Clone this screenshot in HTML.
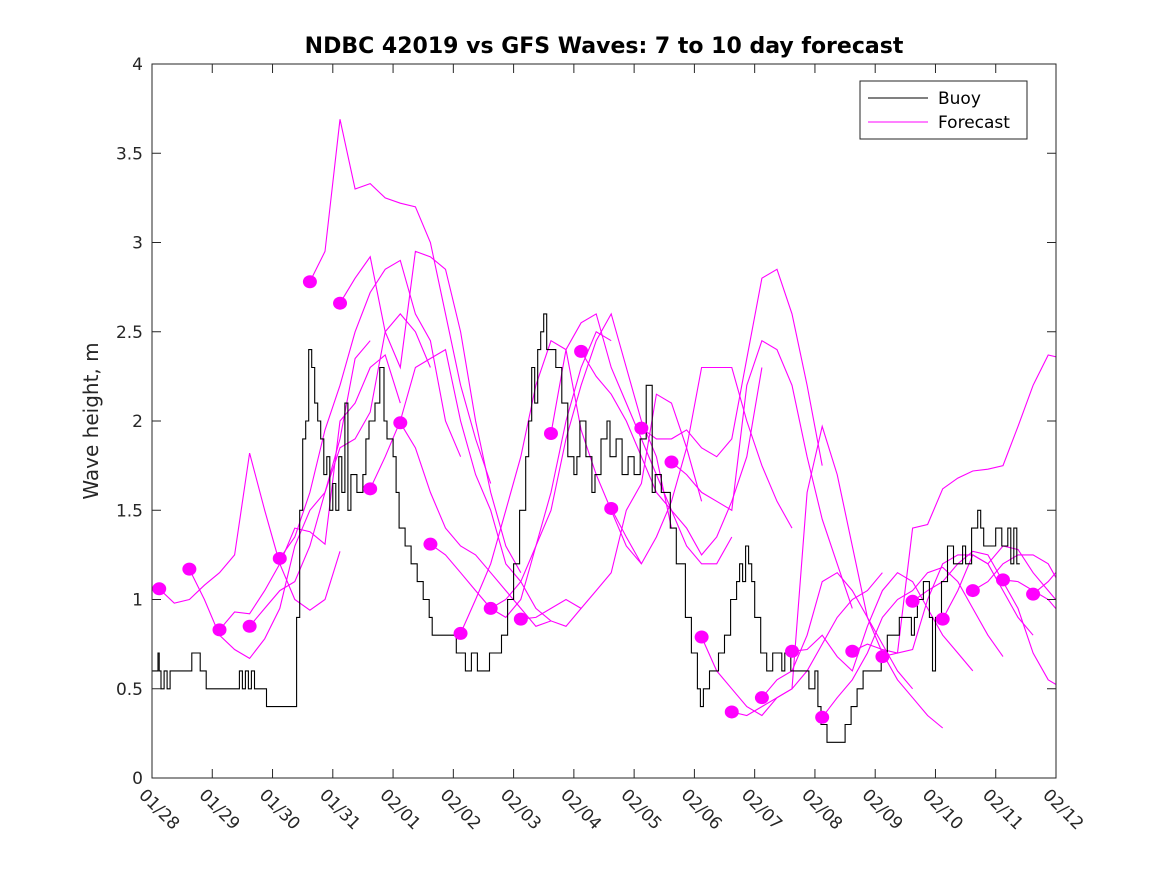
<!DOCTYPE html>
<html><head><meta charset="utf-8"><style>
body{margin:0;background:#fff;}
svg{display:block;font-family:"DejaVu Sans","Liberation Sans",sans-serif;}
</style></head><body>
<svg id="chart" width="1167" height="875">
<rect width="1167" height="875" fill="#fff"/>
<defs><clipPath id="clip"><rect x="152" y="64" width="904" height="714"/></clipPath></defs>
<g id="plot" clip-path="url(#clip)"></g>
<g id="axes"></g>
<text x="604" y="53" text-anchor="middle" font-size="22" font-weight="bold" fill="#000">NDBC 42019 vs GFS Waves: 7 to 10 day forecast</text>
<text transform="translate(98,421) rotate(-90)" text-anchor="middle" font-size="20" fill="#262626">Wave height, m</text>
<g>
<rect x="860" y="81" width="167" height="58" fill="#fff" stroke="#262626" stroke-width="1"/>
<line x1="868" y1="98" x2="928" y2="98" stroke="#000" stroke-width="1"/>
<text x="938" y="104" font-size="17" fill="#000">Buoy</text>
<line x1="868" y1="122" x2="928" y2="122" stroke="#ff00ff" stroke-width="1"/>
<text x="938" y="128" font-size="17" fill="#000">Forecast</text>
</g>
</svg>
<script>
const xTickLabels=["01/28","01/29","01/30","01/31","02/01","02/02","02/03","02/04","02/05","02/06","02/07","02/08","02/09","02/10","02/11","02/12"];
const yTickValues=[0,0.5,1,1.5,2,2.5,3,3.5,4];
const yTickLabels=["0","0.5","1","1.5","2","2.5","3","3.5","4"];
const buoyDays=[0,0.1,0.12,0.15,0.2,0.25,0.3,0.35,0.4,0.5,0.66,0.7,0.8,0.9,1.4,1.45,1.5,1.55,1.6,1.65,1.7,1.75,1.9,2.35,2.4,2.45,2.5,2.55,2.6,2.65,2.7,2.75,2.8,2.85,2.9,2.95,3.0,3.05,3.1,3.15,3.2,3.25,3.3,3.4,3.5,3.55,3.6,3.7,3.78,3.85,3.9,4.0,4.05,4.1,4.2,4.3,4.4,4.5,4.6,4.65,4.8,5.0,5.05,5.2,5.3,5.4,5.55,5.6,5.7,5.8,5.9,6.0,6.1,6.2,6.25,6.3,6.35,6.4,6.45,6.5,6.55,6.6,6.7,6.8,6.9,7.0,7.05,7.1,7.2,7.3,7.35,7.45,7.55,7.6,7.7,7.8,7.9,8.0,8.1,8.2,8.3,8.35,8.45,8.6,8.7,8.85,8.95,9.05,9.1,9.15,9.25,9.4,9.5,9.6,9.7,9.75,9.8,9.85,9.9,9.95,10.0,10.1,10.2,10.3,10.45,10.5,10.6,10.8,10.9,11.0,11.05,11.1,11.2,11.4,11.5,11.6,11.7,11.8,11.9,12.1,12.2,12.4,12.5,12.6,12.65,12.7,12.8,12.9,12.95,13.0,13.1,13.2,13.3,13.45,13.5,13.6,13.7,13.75,13.8,13.9,14.0,14.1,14.2,14.25,14.3,14.35,14.4];
const buoyHeights=[0.6,0.7,0.6,0.5,0.6,0.5,0.6,0.6,0.6,0.6,0.7,0.7,0.6,0.5,0.5,0.6,0.5,0.6,0.5,0.6,0.5,0.5,0.4,0.4,0.9,1.5,1.9,2.0,2.4,2.3,2.1,2.0,1.9,1.7,1.8,1.5,1.65,1.5,1.8,1.6,2.1,1.5,1.7,1.6,1.7,1.9,2.0,2.1,2.3,2.0,1.9,1.8,1.6,1.4,1.3,1.2,1.1,1.0,0.9,0.8,0.8,0.8,0.7,0.6,0.7,0.6,0.6,0.7,0.7,0.8,1.0,1.2,1.5,1.8,2.0,2.3,2.1,2.4,2.5,2.6,2.4,2.4,2.3,2.1,1.8,1.7,1.8,2.0,1.8,1.6,1.7,1.9,2.0,1.8,1.9,1.7,1.8,1.7,1.9,2.2,1.6,1.7,1.6,1.4,1.2,0.9,0.7,0.5,0.4,0.5,0.6,0.7,0.8,1.0,1.1,1.2,1.1,1.3,1.2,1.1,0.9,0.7,0.6,0.7,0.6,0.7,0.6,0.6,0.5,0.6,0.4,0.3,0.2,0.2,0.3,0.4,0.5,0.6,0.6,0.7,0.8,0.9,0.9,0.8,0.9,1.0,1.1,0.9,0.6,0.9,1.1,1.3,1.2,1.3,1.2,1.4,1.5,1.4,1.3,1.3,1.4,1.3,1.4,1.2,1.4,1.2];
const forecastStartDays=[0.12,0.62,1.12,1.62,2.12,2.62,3.12,3.62,4.12,4.62,5.12,5.62,6.12,6.62,7.12,7.62,8.12,8.62,9.12,9.62,10.12,10.62,11.12,11.62,12.12,12.62,13.12,13.62,14.12,14.62];
const forecastStepDays=0.25;
const forecastValues=[
[1.06,0.98,1.0,1.08,1.15,1.25,1.82,1.5,1.2,1.0,0.94,1.0,1.27],
[1.17,1.0,0.8,0.72,0.67,0.78,0.95,1.3,1.5,1.6,1.9,2.35,2.45],
[0.83,0.93,0.92,1.05,1.2,1.4,1.38,1.31,2.0,2.1,2.3,2.37,2.1],
[0.85,0.95,1.05,1.1,1.3,1.6,1.85,1.9,2.05,2.5,2.6,2.5,2.3],
[1.23,1.35,1.6,1.95,2.2,2.5,2.72,2.85,2.9,2.6,2.45,2.0,1.8],
[2.78,2.95,3.69,3.3,3.33,3.25,3.22,3.2,3.0,2.6,2.2,1.9,1.65],
[2.66,2.8,2.92,2.5,2.3,2.95,2.92,2.85,2.5,2.0,1.6,1.3,1.15],
[1.62,1.8,2.0,2.3,2.35,2.4,2.0,1.7,1.5,1.2,1.1,0.95,0.88],
[1.99,1.85,1.6,1.4,1.3,1.25,1.15,1.05,0.95,0.85,0.88,0.85,0.95],
[1.31,1.25,1.15,1.05,0.95,0.9,1.0,1.3,1.6,2.0,2.3,2.5,2.45],
[0.81,1.0,1.2,1.5,1.8,2.2,2.45,2.4,1.95,1.7,1.5,1.3,1.2],
[0.95,1.0,1.1,1.3,1.5,1.9,2.2,2.45,2.6,2.3,2.0,1.8,1.4],
[0.89,0.9,0.95,1.0,0.95,1.05,1.15,1.5,1.65,2.15,2.1,1.85,1.55],
[1.93,2.4,2.55,2.6,2.3,2.1,1.9,1.7,1.5,1.3,1.2,1.2,1.35],
[2.39,2.25,2.15,2.0,1.8,1.6,1.5,1.4,1.25,1.35,1.55,1.8,2.3],
[1.51,1.35,1.2,1.35,1.55,1.85,2.3,2.3,2.3,2.0,1.75,1.55,1.4],
[1.96,1.9,1.9,1.95,1.85,1.8,1.9,2.35,2.8,2.85,2.6,2.2,1.75],
[1.77,1.7,1.6,1.55,1.5,2.2,2.45,2.4,2.2,1.8,1.45,1.2,0.95],
[0.79,0.6,0.5,0.4,0.35,0.45,0.5,0.6,0.75,0.9,1.0,1.05,1.15],
[0.37,0.35,0.4,0.45,0.5,1.6,1.97,1.7,1.3,0.9,0.75,0.6,0.5],
[0.45,0.55,0.6,0.8,1.1,1.15,1.05,0.9,0.7,0.55,0.45,0.35,0.28],
[0.71,0.72,0.8,0.68,0.6,0.85,1.05,1.15,1.1,0.95,0.8,0.7,0.6],
[0.34,0.45,0.55,0.7,0.9,1.0,1.05,1.15,1.18,1.1,0.95,0.8,0.68],
[0.71,0.75,0.72,0.7,0.72,1.0,1.2,1.25,1.25,1.2,1.05,0.9,0.8],
[0.68,0.7,1.4,1.42,1.62,1.68,1.72,1.73,1.75,1.97,2.2,2.37,2.35],
[0.99,1.05,1.1,1.2,1.27,1.25,1.1,0.95,0.7,0.55,0.5,0.55,0.52],
[0.89,1.05,1.25,1.2,1.3,1.28,1.15,1.05,0.95,0.85,0.95,1.15,1.3],
[1.05,1.1,1.2,1.25,1.25,1.2,1.05,0.95,0.85,0.9,1.1,1.3,1.3],
[1.11,1.1,1.05,1.0,0.9,0.85,0.95,1.15,1.25,1.25,1.2,1.1,1.0],
[1.03,1.1,1.2,1.3,1.35,1.3,1.2,1.1,1.0,0.95,0.9,0.9,0.95]
];
const X0=152,X1=1056,Y0=778,Y1=64,DMAX=15,VMAX=4;
function xs(d){return X0+(X1-X0)*d/DMAX;}
function ys(v){return Y0-(Y0-Y1)*v/VMAX;}
const NS="http://www.w3.org/2000/svg";
const plot=document.getElementById('plot'),axes=document.getElementById('axes');
function mk(tag,attrs,parent){const e=document.createElementNS(NS,tag);for(const k in attrs)e.setAttribute(k,attrs[k]);parent.appendChild(e);return e;}
let bp="";
for(let i=0;i<buoyDays.length;i++){const x=xs(buoyDays[i]).toFixed(1),y=ys(buoyHeights[i]).toFixed(1);
 if(i===0)bp+="M"+x+","+y;else bp+="H"+x+"V"+y;}
bp+="H"+xs(buoyDays[buoyDays.length-1]+0.05).toFixed(1);
forecastValues.forEach((vals,k)=>{
 const d0=forecastStartDays[k];
 const pts=vals.map((v,i)=>xs(d0+i*forecastStepDays).toFixed(1)+","+ys(v).toFixed(1)).join(" ");
 const pl=mk('polyline',{points:pts,fill:"none",stroke:"#ff00ff","stroke-width":"1.1"},plot);
 
 
});
const bl=mk('path',{d:bp,fill:"none",stroke:"#000","stroke-width":"1.1"},plot);


forecastValues.forEach((vals,k)=>{
 const c=mk('ellipse',{cx:xs(forecastStartDays[k]),cy:ys(vals[0]),rx:7,ry:6.5,fill:"#ff00ff"},plot);
 
 
});
const box=mk('rect',{x:X0,y:Y1,width:X1-X0,height:Y0-Y1,fill:"none",stroke:"#262626","stroke-width":"1"},axes);


xTickLabels.forEach((lab,i)=>{
 const x=xs(i);
 mk('line',{x1:x,y1:Y0,x2:x,y2:Y0-9,stroke:"#262626"},axes);
 mk('line',{x1:x,y1:Y1,x2:x,y2:Y1+9,stroke:"#262626"},axes);
 const t=mk('text',{transform:"translate("+(x-14)+",796) rotate(45)","font-size":"17",fill:"#262626"},axes);
 t.textContent=lab;
 
 
});
yTickValues.forEach((v,i)=>{
 const y=ys(v);
 mk('line',{x1:X0,y1:y,x2:X0+9,y2:y,stroke:"#262626"},axes);
 mk('line',{x1:X1,y1:y,x2:X1-9,y2:y,stroke:"#262626"},axes);
 const t=mk('text',{x:X0-9,y:y+6,"text-anchor":"end","font-size":"17",fill:"#262626"},axes);
 t.textContent=yTickLabels[i];
 
 
});
</script>
</body></html>
